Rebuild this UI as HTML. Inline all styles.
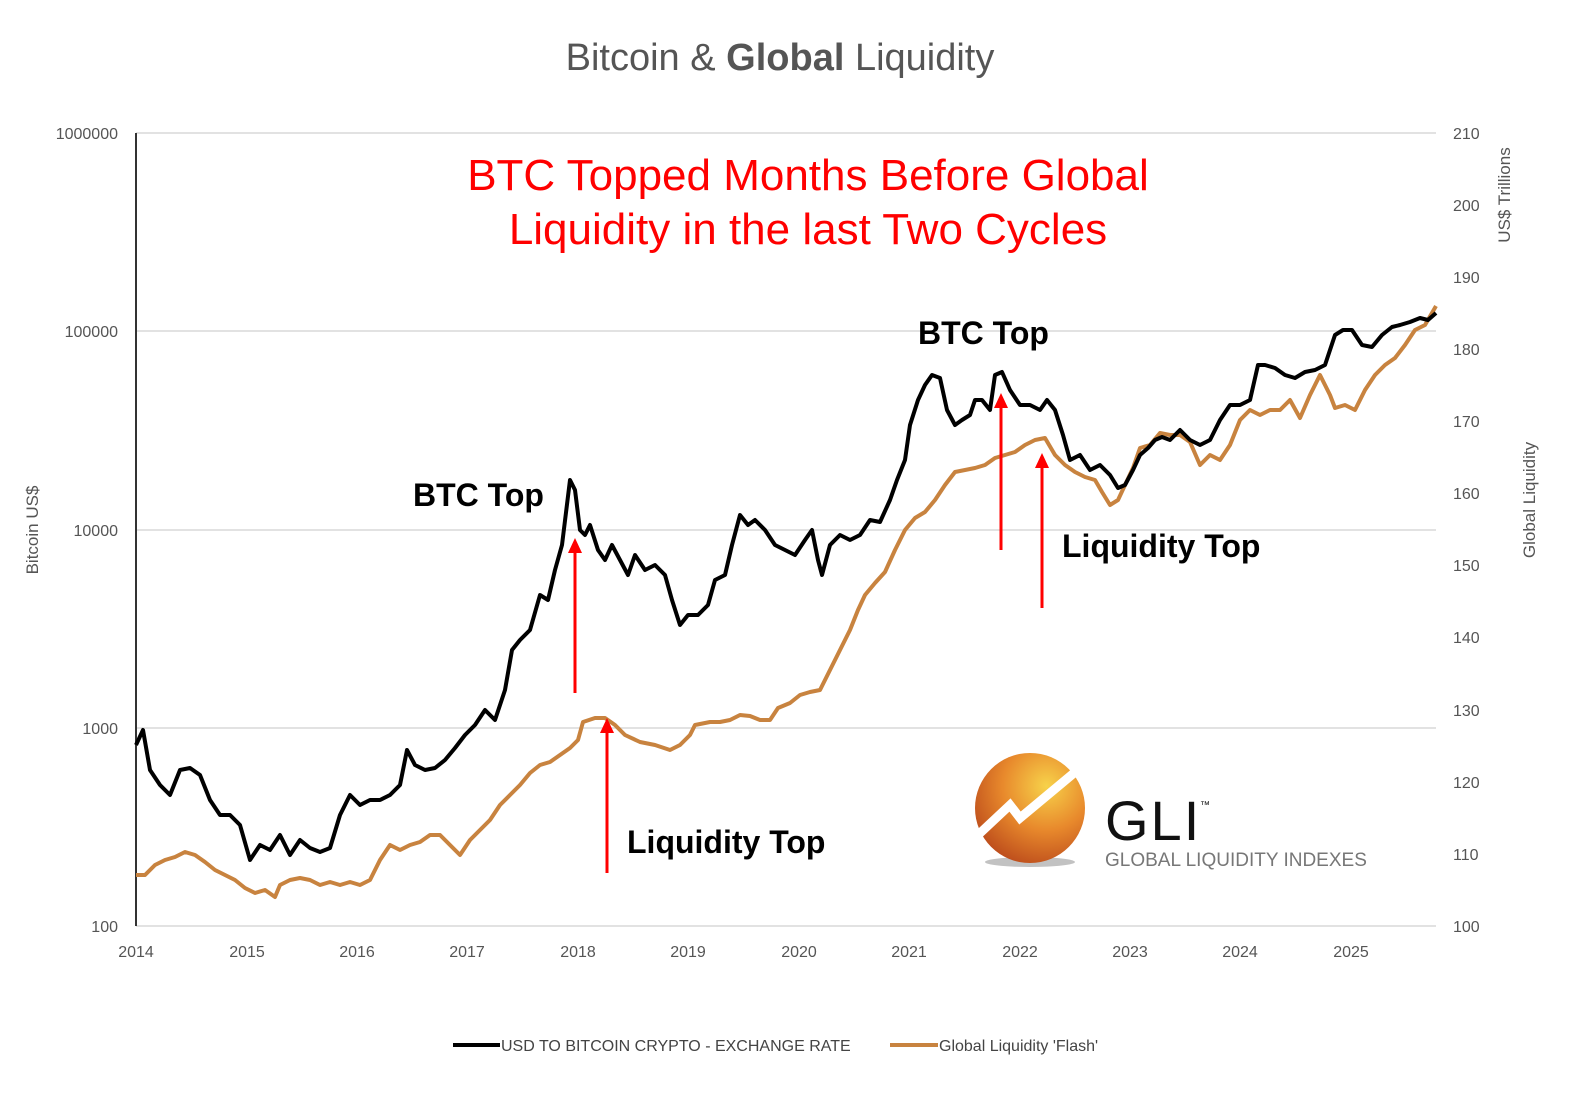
<!DOCTYPE html>
<html><head><meta charset="utf-8"><style>
html,body{margin:0;padding:0;background:#fff}
svg{display:block}
text{font-family:"Liberation Sans",sans-serif}
</style></head><body>
<svg width="1592" height="1097" viewBox="0 0 1592 1097" xmlns="http://www.w3.org/2000/svg">
<defs>
<radialGradient id="g" cx="0.65" cy="0.3" r="0.8">
<stop offset="0" stop-color="#f7d24a"/><stop offset="0.5" stop-color="#e8892c"/><stop offset="1" stop-color="#b8461a"/>
</radialGradient>
</defs>
<text x="780" y="70" font-size="38" fill="#555" text-anchor="middle">Bitcoin &amp; <tspan font-weight="bold">Global</tspan> Liquidity</text>
<g stroke="#d9d9d9" stroke-width="1.5">
<line x1="136" y1="133" x2="1436" y2="133"/><line x1="136" y1="331" x2="1436" y2="331"/>
<line x1="136" y1="530" x2="1436" y2="530"/><line x1="136" y1="728" x2="1436" y2="728"/>
<line x1="136" y1="926" x2="1436" y2="926"/>
</g>
<line x1="136" y1="133" x2="136" y2="926" stroke="#333" stroke-width="2"/>
<g font-size="16" fill="#555" text-anchor="end">
<text x="118" y="139">1000000</text><text x="118" y="337">100000</text><text x="118" y="536">10000</text>
<text x="118" y="734">1000</text><text x="118" y="932">100</text>
</g>
<g font-size="16" fill="#555" text-anchor="start">
<text x="1453" y="139">210</text><text x="1453" y="211">200</text><text x="1453" y="283">190</text>
<text x="1453" y="355">180</text><text x="1453" y="427">170</text><text x="1453" y="499">160</text>
<text x="1453" y="571">150</text><text x="1453" y="643">140</text><text x="1453" y="716">130</text>
<text x="1453" y="788">120</text><text x="1453" y="860">110</text><text x="1453" y="932">100</text>
</g>
<g font-size="16" fill="#555" text-anchor="middle">
<text x="136" y="957">2014</text><text x="247" y="957">2015</text><text x="357" y="957">2016</text>
<text x="467" y="957">2017</text><text x="578" y="957">2018</text><text x="688" y="957">2019</text>
<text x="799" y="957">2020</text><text x="909" y="957">2021</text><text x="1020" y="957">2022</text>
<text x="1130" y="957">2023</text><text x="1240" y="957">2024</text><text x="1351" y="957">2025</text>
</g>
<text transform="translate(38,530) rotate(-90)" font-size="17" fill="#555" text-anchor="middle">Bitcoin US$</text>
<text transform="translate(1510,195) rotate(-90)" font-size="17" fill="#555" text-anchor="middle">US$ Trillions</text>
<text transform="translate(1535,500) rotate(-90)" font-size="17" fill="#555" text-anchor="middle">Global Liquidity</text>

<text x="808" y="190" font-size="44" fill="#f00" text-anchor="middle">BTC Topped Months Before Global</text>
<text x="808" y="244" font-size="44" fill="#f00" text-anchor="middle">Liquidity in the last Two Cycles</text>

<!-- logo -->
<ellipse cx="1030" cy="862" rx="45" ry="5" fill="#999" opacity="0.6"/>
<circle cx="1030" cy="808" r="55" fill="url(#g)"/>
<path d="M978 835 L1010 805 L1020 818 L1080 768" stroke="#fff" stroke-width="9" fill="none"/>
<text x="1105" y="840" font-size="56" fill="#111" letter-spacing="2">GLI</text>
<text x="1200" y="808" font-size="10" fill="#111">™</text>
<text x="1105" y="866" font-size="19" fill="#777">GLOBAL LIQUIDITY INDEXES</text>

<polyline fill="none" stroke="#c8833f" stroke-width="4" stroke-linejoin="round" points="136,875 145,875 155,865 165,860 175,857 185,852 195,855 205,862 215,870 225,875 235,880 245,888 255,893 265,890 275,897 280,885 290,880 300,878 310,880 320,885 330,882 340,885 350,882 360,885 370,880 380,860 390,845 400,850 410,845 420,842 430,835 440,835 450,845 460,855 470,840 480,830 490,820 500,805 510,795 520,785 530,773 540,765 550,762 560,755 570,748 578,740 583,722 595,718 605,718 615,725 625,735 640,742 655,745 670,750 680,745 690,735 695,725 710,722 720,722 730,720 740,715 750,716 760,720 770,720 778,708 790,703 800,695 810,692 820,690 830,670 840,650 850,630 858,610 865,595 875,583 885,572 895,550 905,530 915,518 925,512 935,500 945,485 955,472 965,470 975,468 985,465 995,458 1005,455 1015,452 1025,445 1035,440 1045,438 1055,455 1065,465 1075,472 1085,477 1095,480 1102,492 1110,505 1118,500 1125,485 1133,468 1140,448 1150,445 1160,433 1170,435 1180,435 1190,442 1200,465 1210,455 1220,460 1230,445 1240,420 1250,410 1260,415 1270,410 1280,410 1290,400 1300,418 1310,395 1320,375 1330,395 1335,408 1345,405 1355,410 1365,390 1375,375 1385,365 1395,358 1405,345 1415,330 1425,325 1436,306"/>
<polyline fill="none" stroke="#000" stroke-width="4" stroke-linejoin="round" points="136,745 143,730 150,770 160,785 170,795 180,770 190,768 200,775 210,800 220,815 230,815 240,825 250,860 260,845 270,850 280,835 290,855 300,840 310,848 320,852 330,848 340,815 350,795 360,805 370,800 380,800 390,795 400,785 407,750 415,765 425,770 435,768 445,760 455,748 465,735 475,725 485,710 495,720 505,690 512,650 520,640 530,630 540,595 548,600 555,570 562,545 570,480 575,490 580,530 585,535 590,525 598,550 605,560 612,545 620,560 628,575 635,555 645,570 655,565 665,575 672,600 680,625 688,615 698,615 708,605 715,580 725,575 732,545 740,515 748,525 755,520 765,530 775,545 785,550 795,555 805,540 812,530 818,560 822,575 830,545 840,535 850,540 860,535 870,520 880,522 890,500 897,480 905,460 910,425 918,400 925,385 932,375 940,378 947,410 955,425 962,420 970,415 975,400 982,400 990,410 995,375 1002,372 1010,390 1020,405 1030,405 1040,410 1047,400 1055,410 1063,435 1070,460 1080,455 1090,470 1100,465 1110,475 1118,488 1125,485 1133,470 1140,455 1148,448 1155,440 1162,437 1170,440 1180,430 1190,440 1200,445 1210,440 1220,420 1230,405 1240,405 1250,400 1258,365 1265,365 1275,368 1285,375 1295,378 1305,372 1315,370 1325,365 1335,335 1343,330 1352,330 1362,345 1372,347 1382,335 1392,327 1400,325 1410,322 1420,318 1428,320 1436,313"/>

<!-- arrows -->
<g stroke="#f00" stroke-width="3" fill="#f00">
<line x1="575" y1="693" x2="575" y2="550"/><polygon points="568,553 582,553 575,538" stroke="none"/>
<line x1="607" y1="873" x2="607" y2="730"/><polygon points="600,733 614,733 607,718" stroke="none"/>
<line x1="1001" y1="550" x2="1001" y2="405"/><polygon points="994,408 1008,408 1001,393" stroke="none"/>
<line x1="1042" y1="608" x2="1042" y2="465"/><polygon points="1035,468 1049,468 1042,453" stroke="none"/>
</g>
<g font-size="32" font-weight="bold" fill="#000">
<text x="413" y="506">BTC Top</text>
<text x="918" y="344">BTC Top</text>
<text x="627" y="853">Liquidity Top</text>
<text x="1062" y="557">Liquidity Top</text>
</g>

<line x1="453" y1="1045" x2="500" y2="1045" stroke="#000" stroke-width="4"/>
<text x="501" y="1051" font-size="16" fill="#444">USD TO BITCOIN CRYPTO - EXCHANGE RATE</text>
<line x1="890" y1="1045" x2="938" y2="1045" stroke="#c8833f" stroke-width="4"/>
<text x="939" y="1051" font-size="16" fill="#444">Global Liquidity 'Flash'</text>
</svg>
</body></html>
